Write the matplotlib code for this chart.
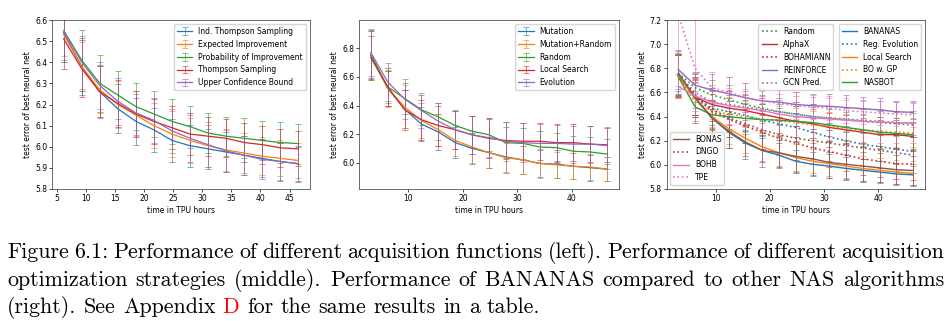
import matplotlib
matplotlib.use('Agg')
import matplotlib.pyplot as plt

# ---------------- data ----------------
x_left = [6.2, 9.3, 12.4, 15.5, 18.6, 21.7, 24.8, 27.9, 31.0, 34.1, 37.2, 40.3, 43.4, 46.5]
x_mid = [3.1, 6.2, 9.3, 12.4, 15.5, 18.6, 21.7, 24.8, 27.9, 31.0, 34.1, 37.2, 40.3, 43.4, 46.5]
x_right = [3.1, 6.2, 9.3, 12.4, 15.5, 18.6, 21.7, 24.8, 27.9, 31.0, 34.1, 37.2, 40.3, 43.4, 46.5]

# left panel: acquisition functions
left_labels = ["Ind. Thompson Sampling", "Expected Improvement", "Probability of Improvement",
               "Thompson Sampling", "Upper Confidence Bound"]
its_mean = [6.54, 6.38, 6.26, 6.18, 6.12, 6.08, 6.03, 6.005, 5.99, 5.975, 5.96, 5.945, 5.93, 5.92]
ei_mean = [6.53, 6.38, 6.27, 6.20, 6.15, 6.10, 6.06, 6.03, 6.005, 5.985, 5.97, 5.955, 5.945, 5.935]
pi_mean = [6.55, 6.41, 6.30, 6.245, 6.19, 6.155, 6.12, 6.095, 6.065, 6.05, 6.04, 6.03, 6.02, 6.015]
ts_mean = [6.51, 6.37, 6.26, 6.205, 6.155, 6.12, 6.09, 6.06, 6.05, 6.04, 6.02, 6.01, 5.995, 5.99]
ucb_mean = [6.55, 6.40, 6.29, 6.215, 6.16, 6.125, 6.075, 6.04, 6.01, 5.98, 5.96, 5.94, 5.93, 5.92]
its_err = [0.14, 0.135, 0.125, 0.115, 0.11, 0.105, 0.1, 0.1, 0.095, 0.093, 0.093, 0.09, 0.09, 0.085]
ei_err = [0.1, 0.115, 0.11, 0.11, 0.1, 0.105, 0.11, 0.105, 0.1, 0.098, 0.093, 0.09, 0.085, 0.085]
pi_err = [0.15, 0.145, 0.135, 0.115, 0.11, 0.11, 0.105, 0.1, 0.095, 0.093, 0.095, 0.093, 0.095, 0.095]
ts_err = [0.14, 0.135, 0.12, 0.11, 0.11, 0.108, 0.103, 0.1, 0.093, 0.09, 0.093, 0.09, 0.09, 0.083]
ucb_err = [0.14, 0.125, 0.11, 0.11, 0.105, 0.105, 0.105, 0.11, 0.105, 0.1, 0.093, 0.093, 0.088, 0.08]

# middle panel: acquisition optimization strategies
mid_labels = ["Mutation", "Mutation+Random", "Random", "Local Search", "Evolution"]
mut_mean = [6.76, 6.52, 6.375, 6.27, 6.215, 6.14, 6.10, 6.07, 6.04, 6.02, 5.995, 5.99, 5.975, 5.965, 5.955]
mutr_mean = [6.75, 6.52, 6.39, 6.295, 6.23, 6.155, 6.11, 6.07, 6.035, 6.02, 5.995, 5.985, 5.975, 5.97, 5.955]
rand_mean = [6.75, 6.53, 6.45, 6.37, 6.32, 6.26, 6.22, 6.195, 6.14, 6.135, 6.11, 6.105, 6.08, 6.075, 6.06]
locs_mean = [6.735, 6.53, 6.37, 6.30, 6.26, 6.23, 6.195, 6.17, 6.155, 6.15, 6.15, 6.14, 6.14, 6.13, 6.125]
evo_mean = [6.77, 6.565, 6.445, 6.365, 6.29, 6.23, 6.195, 6.175, 6.15, 6.14, 6.135, 6.135, 6.13, 6.13, 6.12]
mut_err = [0.17, 0.12, 0.13, 0.12, 0.125, 0.11, 0.11, 0.11, 0.11, 0.1, 0.095, 0.1, 0.09, 0.09, 0.085]
mutr_err = [0.17, 0.13, 0.15, 0.12, 0.11, 0.11, 0.11, 0.11, 0.1, 0.1, 0.1, 0.09, 0.09, 0.09, 0.085]
rand_err = [0.17, 0.11, 0.11, 0.105, 0.10, 0.11, 0.11, 0.115, 0.11, 0.11, 0.11, 0.105, 0.105, 0.105, 0.105]
locs_err = [0.15, 0.13, 0.14, 0.14, 0.14, 0.135, 0.135, 0.135, 0.13, 0.13, 0.13, 0.13, 0.13, 0.125, 0.12]
evo_err = [0.165, 0.135, 0.14, 0.125, 0.13, 0.135, 0.135, 0.135, 0.135, 0.135, 0.135, 0.13, 0.13, 0.13, 0.13]

# right panel: NAS algorithms
random_mean = [6.76, 6.64, 6.58, 6.54, 6.50, 6.47, 6.44, 6.42, 6.40, 6.385, 6.375, 6.36, 6.35, 6.34, 6.33]
alphax_mean = [6.74, 6.56, 6.50, 6.47, 6.45, 6.42, 6.39, 6.36, 6.34, 6.31, 6.29, 6.27, 6.25, 6.25, 6.235]
bohamiann_mean = [6.74, 6.57, 6.44, 6.38, 6.32, 6.27, 6.22, 6.18, 6.14, 6.11, 6.08, 6.05, 6.03, 6.01, 6.005]
reinforce_mean = [6.79, 6.66, 6.62, 6.59, 6.555, 6.53, 6.52, 6.50, 6.49, 6.485, 6.475, 6.465, 6.455, 6.44, 6.435]
gcn_mean = [6.75, 6.60, 6.52, 6.50, 6.48, 6.46, 6.44, 6.42, 6.40, 6.39, 6.38, 6.37, 6.36, 6.35, 6.345]
bananas_mean = [6.75, 6.55, 6.39, 6.27, 6.18, 6.12, 6.08, 6.03, 6.005, 5.99, 5.97, 5.955, 5.94, 5.925, 5.917]
regevo_mean = [6.74, 6.55, 6.47, 6.44, 6.41, 6.37, 6.34, 6.31, 6.27, 6.23, 6.20, 6.17, 6.15, 6.13, 6.11]
ls_mean = [6.74, 6.55, 6.40, 6.30, 6.22, 6.15, 6.10, 6.06, 6.03, 6.01, 5.99, 5.97, 5.955, 5.94, 5.93]
bogp_mean = [6.74, 6.52, 6.45, 6.42, 6.40, 6.38, 6.37, 6.35, 6.33, 6.32, 6.30, 6.29, 6.28, 6.27, 6.265]
nasbot_mean = [6.73, 6.48, 6.415, 6.40, 6.385, 6.375, 6.37, 6.36, 6.35, 6.33, 6.31, 6.29, 6.27, 6.26, 6.25]
bonas_mean = [6.76, 6.56, 6.39, 6.28, 6.19, 6.12, 6.10, 6.07, 6.05, 6.02, 6.005, 5.99, 5.975, 5.96, 5.953]
dngo_mean = [6.75, 6.58, 6.46, 6.39, 6.34, 6.29, 6.25, 6.22, 6.20, 6.18, 6.16, 6.14, 6.12, 6.10, 6.08]
bohb_mean = [6.65, 6.57, 6.52, 6.49, 6.47, 6.45, 6.42, 6.40, 6.39, 6.38, 6.37, 6.36, 6.355, 6.35, 6.347]
tpe_mean = [7.25, 6.80, 6.64, 6.60, 6.56, 6.53, 6.51, 6.49, 6.48, 6.47, 6.45, 6.44, 6.43, 6.42, 6.415]

random_err = [0.15, 0.12, 0.12, 0.12, 0.11, 0.11, 0.11, 0.1, 0.1, 0.1, 0.1, 0.1, 0.1, 0.1, 0.1]
alphax_err = [0.18, 0.15, 0.14, 0.14, 0.13, 0.13, 0.13, 0.13, 0.12, 0.12, 0.12, 0.12, 0.12, 0.12, 0.12]
bohamiann_err = [0.18, 0.16, 0.15, 0.15, 0.14, 0.14, 0.14, 0.14, 0.13, 0.13, 0.13, 0.13, 0.13, 0.13, 0.13]
reinforce_err = [0.16, 0.11, 0.13, 0.14, 0.12, 0.1, 0.1, 0.1, 0.1, 0.1, 0.1, 0.1, 0.1, 0.09, 0.09]
gcn_err = [0.17, 0.13, 0.12, 0.12, 0.11, 0.11, 0.1, 0.1, 0.1, 0.1, 0.1, 0.1, 0.1, 0.1, 0.1]
bananas_err = [0.16, 0.14, 0.14, 0.13, 0.11, 0.1, 0.1, 0.095, 0.1, 0.1, 0.095, 0.095, 0.09, 0.09, 0.09]
regevo_err = [0.17, 0.15, 0.14, 0.14, 0.13, 0.13, 0.13, 0.12, 0.12, 0.12, 0.12, 0.12, 0.12, 0.12, 0.12]
ls_err = [0.17, 0.15, 0.14, 0.13, 0.12, 0.12, 0.11, 0.11, 0.1, 0.1, 0.1, 0.1, 0.1, 0.1, 0.1]
bogp_err = [0.18, 0.16, 0.14, 0.14, 0.13, 0.13, 0.12, 0.12, 0.12, 0.12, 0.12, 0.12, 0.12, 0.12, 0.12]
nasbot_err = [0.18, 0.13, 0.11, 0.13, 0.13, 0.13, 0.13, 0.13, 0.13, 0.13, 0.13, 0.13, 0.13, 0.13, 0.13]
bonas_err = [0.18, 0.16, 0.15, 0.14, 0.14, 0.14, 0.13, 0.13, 0.13, 0.13, 0.12, 0.12, 0.12, 0.12, 0.12]
dngo_err = [0.18, 0.17, 0.16, 0.16, 0.16, 0.16, 0.15, 0.15, 0.15, 0.15, 0.15, 0.15, 0.15, 0.15, 0.15]
bohb_err = [0.1, 0.12, 0.14, 0.15, 0.16, 0.16, 0.17, 0.17, 0.17, 0.17, 0.17, 0.17, 0.17, 0.17, 0.17]
tpe_err = [0.6, 0.45, 0.13, 0.13, 0.12, 0.11, 0.11, 0.11, 0.1, 0.1, 0.1, 0.1, 0.1, 0.1, 0.1]

caption_lines = [
    "Figure 6.1: Performance of different acquisition functions (left). Performance of different acquisition",
    "optimization strategies (middle). Performance of BANANAS compared to other NAS algorithms",
    "(right). See Appendix D for the same results in a table.",
]

# ---------------- style ----------------
plt.rcParams.update({
    'font.family': 'DejaVu Sans',
    'font.size': 5.5,
    'axes.linewidth': 0.5,
    'axes.edgecolor': '#333333',
    'xtick.major.width': 0.5, 'ytick.major.width': 0.5,
    'xtick.major.size': 2.2, 'ytick.major.size': 2.2,
    'xtick.major.pad': 1.4, 'ytick.major.pad': 1.2,
    'axes.labelpad': 2.0,
    'legend.fontsize': 5.5,
})
C = plt.rcParams['axes.prop_cycle'].by_key()['color']
blue, orange, green, red, purple, brown, pink = C[0], C[1], C[2], C[3], C[4], C[5], C[6]

W, H = 949, 321
fig = plt.figure(figsize=(9.49, 3.21), dpi=100)


def add_ax(x0, x1, ytop=20, ybot=189):
    return fig.add_axes([x0 / W, 1 - ybot / H, (x1 - x0) / W, (ybot - ytop) / H])


def eb(ax, x, y, e, color, label=None):
    c = ax.errorbar(x, y, yerr=e, color=color, lw=0.9, elinewidth=0.7, capsize=2.2,
                    capthick=0.7, label=label)
    c[0].set_zorder(4)
    for cap in c[1]:
        cap.set_alpha(0.6)
    for b in c[2]:
        b.set_alpha(0.6)
    return c


# left
ax1 = add_ax(52, 310)
for m, e, col, lab in zip([its_mean, ei_mean, pi_mean, ts_mean, ucb_mean],
                          [its_err, ei_err, pi_err, ts_err, ucb_err],
                          [blue, orange, green, red, purple], left_labels):
    eb(ax1, x_left, m, e, col, lab)
ax1.set_ylim(5.8, 6.6)
ax1.set_xlim(4.2, 48.5)
ax1.set_xticks([5, 10, 15, 20, 25, 30, 35, 40, 45])
ax1.set_yticks([5.8, 5.9, 6.0, 6.1, 6.2, 6.3, 6.4, 6.5, 6.6])
ax1.set_xlabel("time in TPU hours")
ax1.set_ylabel("test error of best neural net")
ax1.legend(loc='upper right')

# middle
ax2 = add_ax(359, 619)
for m, e, col, lab in zip([mut_mean, mutr_mean, rand_mean, locs_mean, evo_mean],
                          [mut_err, mutr_err, rand_err, locs_err, evo_err],
                          [blue, orange, green, red, purple], mid_labels):
    eb(ax2, x_mid, m, e, col, lab)
ax2.set_ylim(5.816, 6.998)
ax2.set_xlim(0.93, 48.67)
ax2.set_xticks([10, 20, 30, 40])
ax2.set_yticks([6.0, 6.2, 6.4, 6.6, 6.8])
ax2.set_xlabel("time in TPU hours")
ax2.set_ylabel("test error of best neural net")
ax2.legend(loc='upper right')

# right
ax3 = add_ax(666.5, 925)
series = [
    ("Random", random_mean, random_err, green, ':'),
    ("AlphaX", alphax_mean, alphax_err, red, '-'),
    ("BOHAMIANN", bohamiann_mean, bohamiann_err, red, ':'),
    ("REINFORCE", reinforce_mean, reinforce_err, purple, '-'),
    ("GCN Pred.", gcn_mean, gcn_err, purple, ':'),
    ("BANANAS", bananas_mean, bananas_err, blue, '-'),
    ("Reg. Evolution", regevo_mean, regevo_err, blue, ':'),
    ("Local Search", ls_mean, ls_err, orange, '-'),
    ("BO w. GP", bogp_mean, bogp_err, orange, ':'),
    ("NASBOT", nasbot_mean, nasbot_err, green, '-'),
    ("BONAS", bonas_mean, bonas_err, brown, '-'),
    ("DNGO", dngo_mean, dngo_err, brown, ':'),
    ("BOHB", bohb_mean, bohb_err, pink, '-'),
    ("TPE", tpe_mean, tpe_err, pink, ':'),
]
handles = {}
for lab, m, e, col, ls in series:
    c = ax3.errorbar(x_right, m, yerr=e, fmt='none', ecolor=col, elinewidth=0.7,
                     capsize=2.2, capthick=0.7)
    for cap in c[1]:
        cap.set_alpha(0.6)
    for b in c[2]:
        b.set_alpha(0.6)
    ln, = ax3.plot(x_right, m, color=col, linestyle=ls, lw=1.0 if ls == '-' else 1.2,
                   label=lab, zorder=4)
    handles[lab] = ln
ax3.set_ylim(5.8, 7.2)
ax3.set_xlim(0.93, 48.67)
ax3.set_xticks([10, 20, 30, 40])
ax3.set_yticks([5.8, 6.0, 6.2, 6.4, 6.6, 6.8, 7.0, 7.2])
ax3.set_xlabel("time in TPU hours")
ax3.set_ylabel("test error of best neural net")
g1 = ["Random", "AlphaX", "BOHAMIANN", "REINFORCE", "GCN Pred."]
g2 = ["BANANAS", "Reg. Evolution", "Local Search", "BO w. GP", "NASBOT"]
g3 = ["BONAS", "DNGO", "BOHB", "TPE"]
l1 = ax3.legend([handles[k] for k in g1], g1, loc='upper right',
                bbox_to_anchor=(0.646, 0.976), borderaxespad=0)
ax3.add_artist(l1)
l2 = ax3.legend([handles[k] for k in g2], g2, loc='upper right')
ax3.add_artist(l2)
ax3.legend([handles[k] for k in g3], g3, loc='lower left')

# ---------------- caption ----------------
fig.canvas.draw()
rend = fig.canvas.get_renderer()
CAPFONT = 'cmr10'


def tw(s, fs):
    t = fig.text(0, 0, s, fontsize=fs, family=CAPFONT)
    w = t.get_window_extent(renderer=rend).width
    t.remove()
    return w


fs0 = 16.0
fs = fs0 * 533.0 / tw(caption_lines[2], fs0)
space = tw('a a', fs) - tw('aa', fs)


def place_words(words, ybase, x0, x1=None, colors=None):
    widths = [tw(w, fs) for w in words]
    if x1 is None:
        gap = space
    else:
        gap = (x1 - x0 - sum(widths)) / (len(words) - 1)
    x = x0
    for i, (w, wd) in enumerate(zip(words, widths)):
        col = colors[i] if colors else 'black'
        fig.text(x / W, 1 - ybase / H, w, fontsize=fs, family=CAPFONT, color=col,
                 va='baseline', ha='left')
        x += wd + gap


place_words(caption_lines[0].split(), 258.5, 7, 944)
place_words(caption_lines[1].split(), 286.0, 7, 944)
w3 = caption_lines[2].split()
place_words(w3, 313.0, 7, None, ['red' if w == 'D' else 'black' for w in w3])

fig.savefig('out.png', dpi=100)
